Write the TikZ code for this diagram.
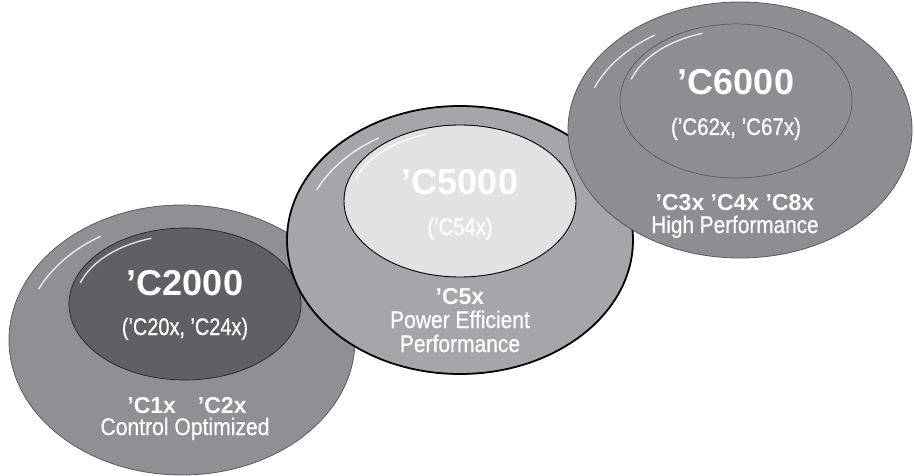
\documentclass[tikz,border=0pt]{standalone}
\usepackage{fontspec}
\setmainfont{Liberation Sans}
\newfontfamily\medfont[FakeBold=0.7]{Liberation Sans}
\usetikzlibrary{shapes.geometric,calc}
\definecolor{lofill}{HTML}{8F9094}
\definecolor{lifill}{HTML}{5F6064}
\definecolor{mofill}{HTML}{A6A6AA}
\definecolor{mifill}{HTML}{E1E2E4}
\definecolor{rofill}{HTML}{8D8E92}
\definecolor{edgegray}{HTML}{5A5B5F}
\begin{document}
\begin{tikzpicture}[x=1pt,y=-1pt,
  disc/.style={ellipse, inner sep=0pt, outer sep=0pt},
  outerdisc/.style={disc, minimum width=346pt, minimum height=270pt},
  innerdisc/.style={disc, minimum width=232pt, minimum height=152pt},
  hl/.style={draw=white, line width=1.4pt, line cap=round, opacity=0.8},
  big/.style={text=white, anchor=base, inner sep=0pt, font=\bfseries\fontsize{36}{36}\selectfont},
  sub/.style={text=white, anchor=base, inner sep=0pt, font=\medfont\fontsize{24}{24}\selectfont},
  lbl/.style={text=white, anchor=base, inner sep=0pt, font=\bfseries\fontsize{23}{23}\selectfont},
  desc/.style={text=white, anchor=base, inner sep=0pt, font=\medfont\fontsize{24}{24}\selectfont}]
\useasboundingbox (0,0) rectangle (914,476);
\fill[white] (0,0) rectangle (914,476);

% left disc
\node[outerdisc, fill=lofill, draw=edgegray, line width=0.8pt] (lo) at (182,340) {};
\node[innerdisc, fill=lifill, draw=black!85, line width=0.7pt] (li) at (185,304) {};
\draw[hl] ($(lo.center)+(-155:158 and 121)$) arc[start angle=-155, end angle=-121, x radius=158, y radius=121];
\draw[hl] ($(li.center)+(-162:110 and 69)$) arc[start angle=-162, end angle=-108, x radius=110, y radius=69];
\node[big] (t2k) at (185,295) {’C2000};
\node[sub] (s2k) at (185,335) {\scalebox{0.83}[1]{(’C20x, ’C24x)}};
\node[lbl] (l2k) at (187,413) {’C1x\hspace{22pt}’C2x};
\node[desc] (d2k) at (185,435) {\scalebox{0.88}[1]{Control Optimized}};

% middle disc
\node[outerdisc, minimum height=268pt, fill=mofill, draw=black, line width=1.8pt] (mo) at (460,240) {};
\node[innerdisc, fill=mifill, draw=black, line width=0.9pt] (mi) at (460,201) {};
\draw[hl] ($(mo.center)+(-155:158 and 119)$) arc[start angle=-155, end angle=-121, x radius=158, y radius=119];
\draw[hl] ($(mi.center)+(-162:110 and 70)$) arc[start angle=-162, end angle=-108, x radius=110, y radius=70];
\node[big] (t5k) at (460,195) {’C5000};
\node[sub] (s5k) at (460,235) {\scalebox{0.84}[1]{(’C54x)}};
\node[lbl] (l5k) at (460,305) {’C5x};
\node[desc] (d5ka) at (460,328) {\scalebox{0.875}[1]{Power Efficient}};
\node[desc] (d5kb) at (460,352) {\scalebox{0.875}[1]{Performance}};

% right disc
\node[outerdisc, minimum width=344pt, minimum height=256pt, fill=rofill, draw=edgegray, line width=0.8pt] (ro) at (740,130) {};
\node[innerdisc, minimum height=154pt, fill=rofill, draw=edgegray, line width=0.7pt] (ri) at (736,101) {};
\draw[hl] ($(ro.center)+(-158:157 and 113)$) arc[start angle=-158, end angle=-123, x radius=157, y radius=113];
\draw[hl] ($(ri.center)+(-162:110 and 71)$) arc[start angle=-162, end angle=-108, x radius=110, y radius=71];
\node[big] (t6k) at (736,95) {’C6000};
\node[sub] (s6k) at (736,135) {\scalebox{0.855}[1]{(’C62x, ’C67x)}};
\node[lbl] (l6k) at (735,211) {’C3x ’C4x ’C8x};
\node[desc] (d6k) at (735,233) {\scalebox{0.865}[1]{High Performance}};
\end{tikzpicture}
\end{document}
